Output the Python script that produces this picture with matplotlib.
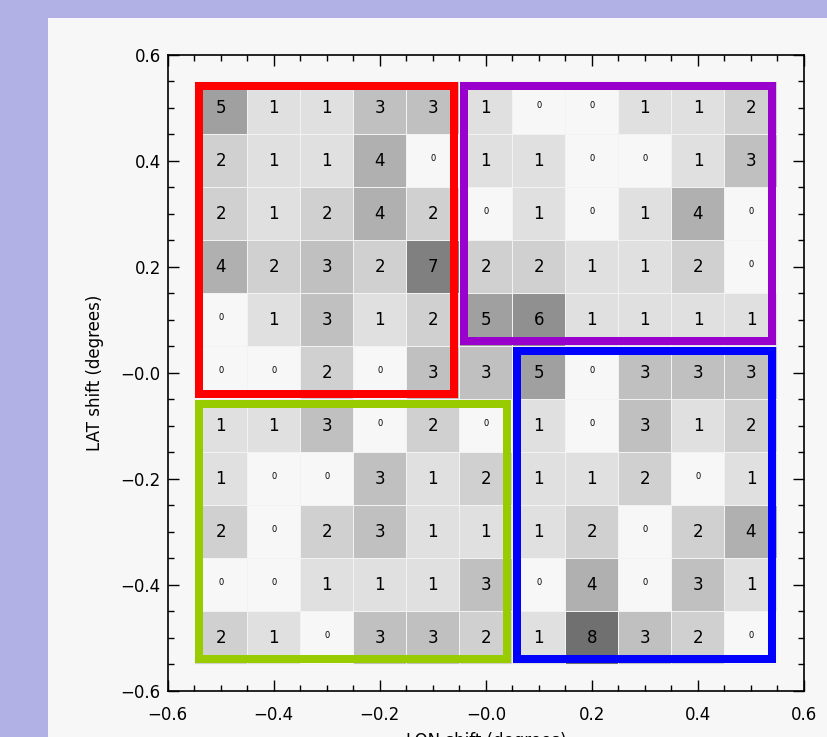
import numpy as np
import matplotlib.pyplot as plt
from matplotlib.colors import ListedColormap, BoundaryNorm
from matplotlib.patches import Rectangle

# cell centres (degrees)
lon_centers = [-0.5, -0.4, -0.3, -0.2, -0.1, 0.0, 0.1, 0.2, 0.3, 0.4, 0.5]
lat_centers = [0.5, 0.4, 0.3, 0.2, 0.1, 0.0, -0.1, -0.2, -0.3, -0.4, -0.5]

# counts per cell, rows from top (lat 0.5) to bottom (lat -0.5)
counts = [
    [5, 1, 1, 3, 3, 1, 0, 0, 1, 1, 2],
    [2, 1, 1, 4, 0, 1, 1, 0, 0, 1, 3],
    [2, 1, 2, 4, 2, 0, 1, 0, 1, 4, 0],
    [4, 2, 3, 2, 7, 2, 2, 1, 1, 2, 0],
    [0, 1, 3, 1, 2, 5, 6, 1, 1, 1, 1],
    [0, 0, 2, 0, 3, 3, 5, 0, 3, 3, 3],
    [1, 1, 3, 0, 2, 0, 1, 0, 3, 1, 2],
    [1, 0, 0, 3, 1, 2, 1, 1, 2, 0, 1],
    [2, 0, 2, 3, 1, 1, 1, 2, 0, 2, 4],
    [0, 0, 1, 1, 1, 3, 0, 4, 0, 3, 1],
    [2, 1, 0, 3, 3, 2, 1, 8, 3, 2, 0],
]

# boxes: (lon_min, lon_max, lat_min, lat_max, colour)
boxes = [
    (-0.55, -0.05, -0.05, 0.55, '#ff0000'),
    (-0.05, 0.55, 0.05, 0.55, '#9900cc'),
    (0.05, 0.55, -0.55, 0.05, '#0000ff'),
    (-0.55, 0.05, -0.55, -0.05, '#99cc00'),
]

tick_vals = [-0.6, -0.4, -0.2, 0.0, 0.2, 0.4, 0.6]
tick_labels = ['\u22120.6', '\u22120.4', '\u22120.2', '\u22120.0', '0.2', '0.4', '0.6']

bg = '#f7f7f7'
plt.rcParams['font.family'] = ['DejaVu Sans']

fig = plt.figure(figsize=(8.27, 7.37), dpi=100, facecolor='#b1b1e6')
fig.patches.append(Rectangle((48 / 827, 0), 1, 1 - 18 / 737, transform=fig.transFigure,
                             facecolor=bg, edgecolor='none', zorder=-10))
ax = fig.add_axes([167.7 / 827, 1 - 690.7 / 737, (804 - 167.7) / 827, (690.7 - 55) / 737])
ax.set_zorder(5)
ax.set_facecolor(bg)

# grey levels: 0 -> background, each count darker by 16/255
greys = [bg] + ['#%02x%02x%02x' % ((240 - 16 * k,) * 3) for k in range(1, 9)]
cmap = ListedColormap(greys)
norm = BoundaryNorm(np.arange(-0.5, 9.5, 1), cmap.N)

data = np.array(counts)
lon_edges = np.append(np.array(lon_centers) - 0.05, lon_centers[-1] + 0.05)
lat_edges = np.append(np.array(lat_centers) + 0.05, lat_centers[-1] - 0.05)
ax.pcolormesh(lon_edges, lat_edges, data, cmap=cmap, norm=norm,
              edgecolors='#f2f2f2', linewidth=0.6)

for i, lat in enumerate(lat_centers):
    for j, lon in enumerate(lon_centers):
        v = counts[i][j]
        if v == 0:
            ax.text(lon, lat + 0.004, '0', fontsize=6, ha='center', va='center', color='black')
        else:
            ax.text(lon, lat, str(v), fontsize=12, ha='center', va='center', color='black')

# coloured boxes, line drawn just inside the cell boundary
px = 1.2 / 636.0
lw_px = 8.0
d = (lw_px / 2 + 1) * px
for x0, x1, y0, y1, c in boxes:
    ax.add_patch(Rectangle((x0 + d, y0 + d), x1 - x0 - 2 * d, y1 - y0 - 2 * d,
                           fill=False, edgecolor=c, linewidth=lw_px * 0.72,
                           joinstyle='miter', zorder=5))

ax.set_xlim(-0.6, 0.6)
ax.set_ylim(-0.6, 0.6)
ax.set_xticks(tick_vals)
ax.set_xticklabels(tick_labels)
ax.set_yticks(tick_vals)
ax.set_yticklabels(tick_labels)
ax.set_xticks(np.arange(-0.55, 0.6, 0.05), minor=True)
ax.set_yticks(np.arange(-0.55, 0.6, 0.05), minor=True)
ax.tick_params(which='both', direction='in', top=True, right=True, width=1.0, color='black')
ax.tick_params(which='major', length=8, labelsize=12)
ax.tick_params(axis='x', which='major', pad=11)
ax.tick_params(axis='y', which='major', pad=5)
ax.tick_params(which='minor', length=4.5)
for s in ax.spines.values():
    s.set_linewidth(1.2)

ax.set_xlabel('LON shift (degrees)', fontsize=12, labelpad=6)
ax.set_ylabel('LAT shift (degrees)', fontsize=12, labelpad=12)

fig.savefig('out.png', dpi=100, facecolor=fig.get_facecolor())
